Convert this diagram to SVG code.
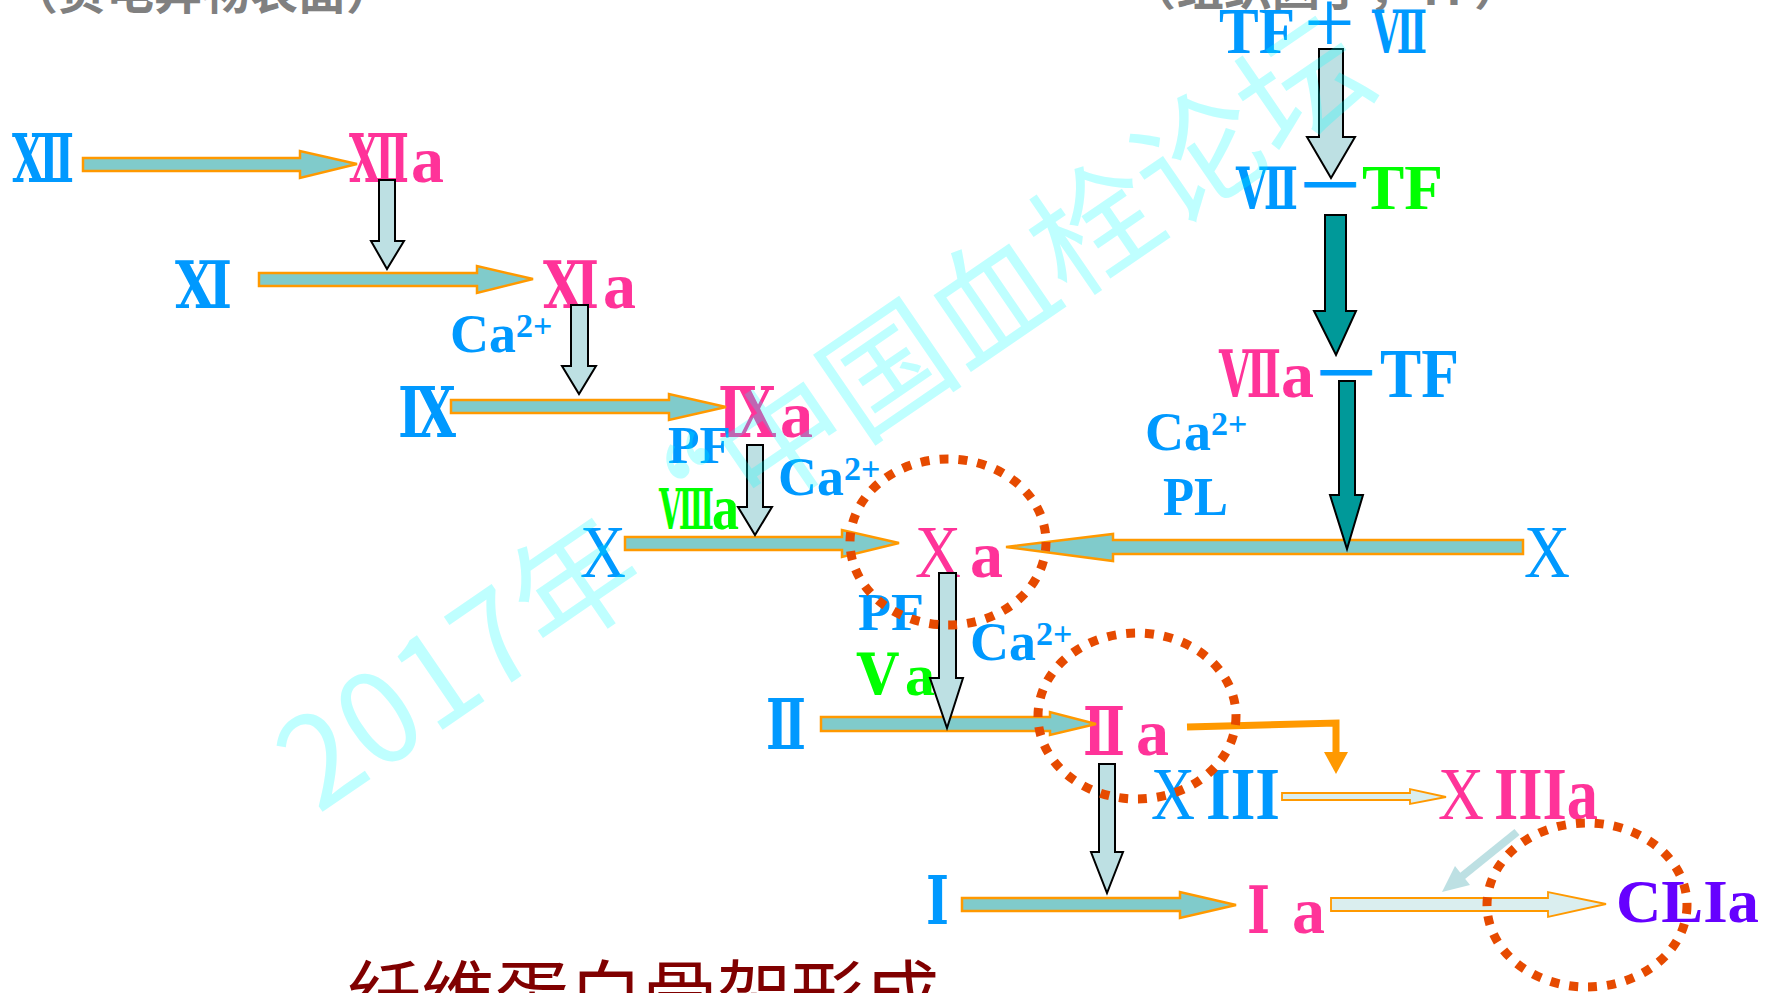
<svg xmlns="http://www.w3.org/2000/svg" width="1773" height="993" viewBox="0 0 1773 993">
<style>
.num{font-family:'DejaVu Serif','Liberation Serif',serif;font-weight:bold;}
.lat{font-family:'Liberation Serif','Times New Roman',serif;}
.b{font-weight:bold;}
.blue{fill:#0099FF;}
.pink{fill:#FF3399;}
.green{fill:#00FF00;}
.purple{fill:#6600FF;}
.cjk{font-family:'Noto Sans CJK SC',sans-serif;}
.harr{fill:#80CBCB;stroke:#FF9900;stroke-width:2.5;}
.larr{fill:#DAEEEF;stroke:#FF9900;stroke-width:1.8;}
.varr{fill:#BDE0E3;stroke:#000;stroke-width:2;}
.darr{fill:#009999;stroke:#000;stroke-width:2;}
.ring{fill:none;stroke:#E64A00;stroke-width:9;stroke-dasharray:9 10;}
.dash{stroke-width:3;}
</style>
<rect width="1773" height="993" fill="#FFFFFF"/>
<g id="titles">
<text class="cjk b" x="10" y="9" font-size="48" fill="#808080">（负电异物表面）</text>
<text class="cjk b" x="1128" y="5" font-size="48" fill="#808080">（组织因子，TF）</text>
</g>
<g id="n-XII"><text class="num blue" x="12" y="182" font-size="67" textLength="62" lengthAdjust="spacingAndGlyphs">Ⅻ</text></g>
<g id="n-XIIa"><text class="num pink" x="349" y="182" font-size="67" textLength="60" lengthAdjust="spacingAndGlyphs">Ⅻ</text><text class="lat b pink" x="411" y="182" font-size="66">a</text></g>
<g id="n-XI"><text class="num blue" x="175" y="308" font-size="66" textLength="57" lengthAdjust="spacingAndGlyphs">Ⅺ</text></g>
<g id="n-XIa"><text class="num pink" x="543" y="308" font-size="66" textLength="56" lengthAdjust="spacingAndGlyphs">Ⅺ</text><text class="lat b pink" x="603" y="308" font-size="66">a</text></g>
<g id="n-Ca1"><text class="lat b blue" x="450" y="352" font-size="54">Ca<tspan font-size="34" dy="-15">2+</tspan></text></g>
<g id="n-IX"><text class="num blue" x="398" y="437" font-size="69" textLength="58" lengthAdjust="spacingAndGlyphs">Ⅸ</text></g>
<g id="n-IXa"><text class="num pink" x="718" y="437" font-size="69" textLength="58" lengthAdjust="spacingAndGlyphs">Ⅸ</text><text class="lat b pink" x="780" y="437" font-size="66">a</text></g>
<g id="n-PF1"><text class="lat b blue" x="668" y="463" font-size="53" textLength="63" lengthAdjust="spacingAndGlyphs">PF</text></g>
<g id="n-Ca2"><text class="lat b blue" x="778" y="495" font-size="54">Ca<tspan font-size="34" dy="-15">2+</tspan></text></g>
<g id="n-VIIIa"><text class="num green" x="659" y="529" font-size="56" textLength="55" lengthAdjust="spacingAndGlyphs">Ⅷ</text><text class="lat b green" x="712" y="529" font-size="64" textLength="27" lengthAdjust="spacingAndGlyphs">a</text></g>
<g id="n-X1"><text class="lat blue" x="580" y="577" font-size="74" textLength="46" lengthAdjust="spacingAndGlyphs">X</text></g>
<g id="n-Xa"><text class="lat pink" x="915" y="577" font-size="74" textLength="46" lengthAdjust="spacingAndGlyphs">X</text><text class="lat b pink" x="970" y="577" font-size="66">a</text></g>
<g id="n-X2"><text class="lat blue" x="1524" y="577" font-size="74" textLength="46" lengthAdjust="spacingAndGlyphs">X</text></g>
<g id="n-TF-VII"><text class="lat b blue" x="1219" y="53" font-size="65" textLength="76" lengthAdjust="spacingAndGlyphs">TF</text><text class="lat blue" x="1304" y="53" font-size="90">+</text><text class="num blue" x="1372" y="53" font-size="59" textLength="55" lengthAdjust="spacingAndGlyphs">Ⅶ</text></g>
<g id="n-VII-TF"><text class="num blue" x="1236" y="209" font-size="58" textLength="62" lengthAdjust="spacingAndGlyphs">Ⅶ</text><text class="lat blue dash" stroke="#0099FF" x="1306" y="196" font-size="48">—</text><text class="lat b green" x="1362" y="209" font-size="64" textLength="81" lengthAdjust="spacingAndGlyphs">TF</text></g>
<g id="n-VIIa-TF"><text class="num pink" x="1219" y="397" font-size="66" textLength="62" lengthAdjust="spacingAndGlyphs">Ⅶ</text><text class="lat b pink" x="1281" y="397" font-size="66">a</text><text class="lat blue dash" stroke="#0099FF" x="1322" y="384" font-size="48">—</text><text class="lat b blue" x="1380" y="397" font-size="70" textLength="79" lengthAdjust="spacingAndGlyphs">TF</text></g>
<g id="n-Ca3"><text class="lat b blue" x="1145" y="450" font-size="54">Ca<tspan font-size="34" dy="-15">2+</tspan></text></g>
<g id="n-PL"><text class="lat b blue" x="1163" y="515" font-size="54" textLength="65" lengthAdjust="spacingAndGlyphs">PL</text></g>
<g id="n-PF2"><text class="lat b blue" x="858" y="630" font-size="53" textLength="66" lengthAdjust="spacingAndGlyphs">PF</text></g>
<g id="n-Ca4"><text class="lat b blue" x="970" y="660" font-size="54">Ca<tspan font-size="34" dy="-15">2+</tspan></text></g>
<g id="n-Va"><text class="num green" x="857" y="695" font-size="58" textLength="41" lengthAdjust="spacingAndGlyphs">Ⅴ</text><text class="lat b green" x="905" y="695" font-size="60">a</text></g>
<g id="n-II"><text class="num blue" x="766" y="749" font-size="69" textLength="40" lengthAdjust="spacingAndGlyphs">Ⅱ</text></g>
<g id="n-IIa"><text class="num pink" x="1083" y="755" font-size="67" textLength="42" lengthAdjust="spacingAndGlyphs">Ⅱ</text><text class="lat b pink" x="1136" y="755" font-size="66">a</text></g>
<g id="n-XIII"><text class="lat blue" x="1151" y="819" font-size="74" textLength="44" lengthAdjust="spacingAndGlyphs">X</text><text class="lat b blue" x="1206" y="819" font-size="74" textLength="74" lengthAdjust="spacingAndGlyphs">III</text></g>
<g id="n-XIIIa"><text class="lat pink" x="1438" y="819" font-size="74" textLength="46" lengthAdjust="spacingAndGlyphs">X</text><text class="lat b pink" x="1494" y="819" font-size="74" textLength="104" lengthAdjust="spacingAndGlyphs">IIIa</text></g>
<g id="n-I"><text class="num blue" x="926" y="924" font-size="67" textLength="23" lengthAdjust="spacingAndGlyphs">Ⅰ</text></g>
<g id="n-Ia"><text class="num pink" x="1247" y="933" font-size="65" textLength="23" lengthAdjust="spacingAndGlyphs">Ⅰ</text><text class="lat b pink" x="1292" y="933" font-size="66">a</text></g>
<g id="n-CLIa"><text class="lat b purple" x="1616" y="922" font-size="62" textLength="143" lengthAdjust="spacingAndGlyphs">CLIa</text></g>
<g id="n-fibrin"><text class="cjk" x="347" y="1022" font-size="74" fill="#800000">纤维蛋白骨架形成</text></g>
<g id="connectors">
<path class="harr" d="M83 158H300V151L357 164L300 178V171H83Z"/>
<path class="harr" d="M259 273H477V266L533 279L477 293V286H259Z"/>
<path class="harr" d="M451 400H669V394L726 407L669 420V413H451Z"/>
<path class="harr" d="M625 537H842V530L899 543L842 557V550H625Z"/>
<path class="harr" d="M1523 540H1113V534L1006 547L1113 561V554H1523Z"/>
<path class="harr" d="M821 717H1050V712L1096 724L1050 735V731H821Z"/>
<path class="harr" d="M962 898H1180V892L1236 905L1180 918V911H962Z"/>
<path class="larr" d="M1282 793H1410V789L1446 797L1410 804V800H1282Z"/>
<path class="larr" d="M1331 898H1548V892L1606 904L1548 917V911H1331Z"/>
<path class="varr" d="M379 180H395V241H404L387 269L371 241H379Z"/>
<path class="varr" d="M571 305H588V366H596L579 394L562 366H571Z"/>
<path class="varr" d="M747 445H763V507H772L755 535L738 507H747Z"/>
<path class="varr" d="M939 573H956V678H963L947 728L930 678H939Z"/>
<path class="varr" d="M1099 764H1115V852H1123L1107 893L1091 852H1099Z"/>
<path class="varr" d="M1319 49H1343V137H1355L1331 178L1307 137H1319Z"/>
<path class="darr" d="M1325 215H1346V311H1356L1336 355L1314 311H1325Z"/>
<path class="darr" d="M1339 381H1355V495H1363L1347 549L1330 495H1339Z"/>
<polyline points="1187,727 1336,723 1336,754" fill="none" stroke="#FF9900" stroke-width="7"/>
<polygon points="1324,752 1348,752 1336,774" fill="#FF9900"/>
<line x1="1517" y1="832" x2="1460" y2="878" stroke="#BDE0E3" stroke-width="8"/>
<polygon points="1442,892 1470,885 1455,866" fill="#BDE0E3"/>
</g>
<g id="rings">
<ellipse class="ring" cx="948" cy="542" rx="98" ry="83"/>
<ellipse class="ring" cx="1137" cy="716" rx="99" ry="83"/>
<ellipse class="ring" cx="1587" cy="905" rx="100" ry="82"/>
</g>
<g id="watermark">
<text class="cjk" transform="translate(318,815) rotate(-34.4)" font-size="126" fill="#00FFFF" fill-opacity="0.25">2017年“中国血栓论坛</text>
</g>
</svg>
